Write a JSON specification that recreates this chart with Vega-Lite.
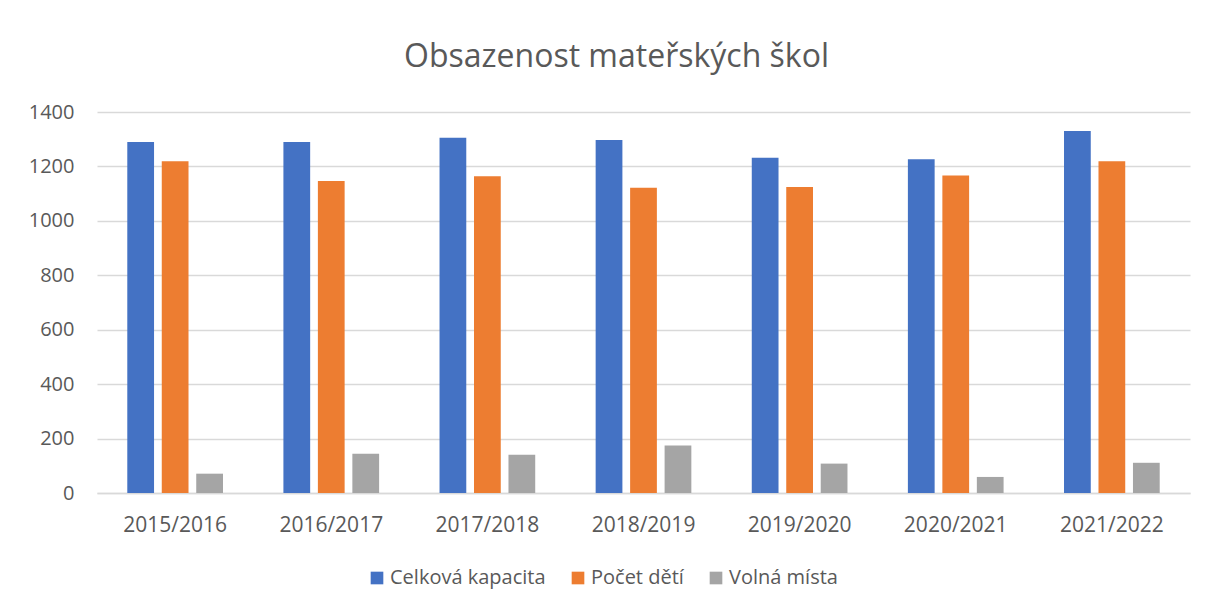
{
  "$schema": "https://vega.github.io/schema/vega-lite/v6.json",
  "width": 1093,
  "height": 381,
  "autosize": "none",
  "padding": {"left": 97, "top": 112, "right": 18, "bottom": 117},
  "background": "white",
  "title": {
    "text": "Obsazenost mateřských škol",
    "font": "Open Sans",
    "fontSize": 32,
    "fontWeight": "normal",
    "color": "#595959",
    "anchor": "middle",
    "dx": -27,
    "offset": 28
  },
  "data": {
    "values": [
      {"rok": "2015/2016", "serie": "Celková kapacita", "hodnota": 1290},
      {"rok": "2015/2016", "serie": "Počet dětí", "hodnota": 1219},
      {"rok": "2015/2016", "serie": "Volná místa", "hodnota": 71},
      {"rok": "2016/2017", "serie": "Celková kapacita", "hodnota": 1290},
      {"rok": "2016/2017", "serie": "Počet dětí", "hodnota": 1146},
      {"rok": "2016/2017", "serie": "Volná místa", "hodnota": 144},
      {"rok": "2017/2018", "serie": "Celková kapacita", "hodnota": 1305},
      {"rok": "2017/2018", "serie": "Počet dětí", "hodnota": 1164},
      {"rok": "2017/2018", "serie": "Volná místa", "hodnota": 141},
      {"rok": "2018/2019", "serie": "Celková kapacita", "hodnota": 1297},
      {"rok": "2018/2019", "serie": "Počet dětí", "hodnota": 1122},
      {"rok": "2018/2019", "serie": "Volná místa", "hodnota": 175},
      {"rok": "2019/2020", "serie": "Celková kapacita", "hodnota": 1232},
      {"rok": "2019/2020", "serie": "Počet dětí", "hodnota": 1124},
      {"rok": "2019/2020", "serie": "Volná místa", "hodnota": 108},
      {"rok": "2020/2021", "serie": "Celková kapacita", "hodnota": 1226},
      {"rok": "2020/2021", "serie": "Počet dětí", "hodnota": 1167},
      {"rok": "2020/2021", "serie": "Volná místa", "hodnota": 59},
      {"rok": "2021/2022", "serie": "Celková kapacita", "hodnota": 1330},
      {"rok": "2021/2022", "serie": "Počet dětí", "hodnota": 1219},
      {"rok": "2021/2022", "serie": "Volná místa", "hodnota": 111}
    ]
  },
  "mark": {"type": "bar"},
  "encoding": {
    "x": {
      "field": "rok",
      "type": "nominal",
      "sort": null,
      "scale": {"paddingInner": 0.387, "paddingOuter": 0.194},
      "axis": {
        "title": null,
        "labelAngle": 0,
        "labelFont": "Open Sans",
        "labelFontSize": 21,
        "labelColor": "#595959",
        "labelPadding": 21,
        "ticks": false,
        "domainColor": "#d9d9d9",
        "domainWidth": 1.5,
        "grid": false
      }
    },
    "xOffset": {
      "field": "serie",
      "type": "nominal",
      "sort": ["Celková kapacita", "Počet dětí", "Volná místa"],
      "scale": {"paddingInner": 0.224, "paddingOuter": 0}
    },
    "y": {
      "field": "hodnota",
      "type": "quantitative",
      "scale": {"domain": [0, 1400], "nice": false},
      "axis": {
        "title": null,
        "values": [0, 200, 400, 600, 800, 1000, 1200, 1400],
        "format": "d",
        "labelFont": "Open Sans",
        "labelFontSize": 20,
        "labelColor": "#595959",
        "labelPadding": 23,
        "ticks": false,
        "domain": false,
        "gridColor": "#d9d9d9",
        "gridWidth": 1.5
      }
    },
    "color": {
      "field": "serie",
      "type": "nominal",
      "sort": ["Celková kapacita", "Počet dětí", "Volná místa"],
      "scale": {
        "domain": ["Celková kapacita", "Počet dětí", "Volná místa"],
        "range": ["#4472C4", "#ED7D31", "#A5A5A5"]
      },
      "legend": {
        "title": null,
        "orient": "none",
        "direction": "horizontal",
        "legendX": 270,
        "legendY": 456,
        "symbolType": "square",
        "symbolSize": 160,
        "symbolStrokeWidth": 0,
        "labelFont": "Open Sans",
        "labelFontSize": 20,
        "labelColor": "#595959",
        "labelOffset": 3,
        "columnPadding": 22,
        "labelLimit": 300
      }
    }
  },
  "config": {
    "view": {"stroke": null}
  }
}
